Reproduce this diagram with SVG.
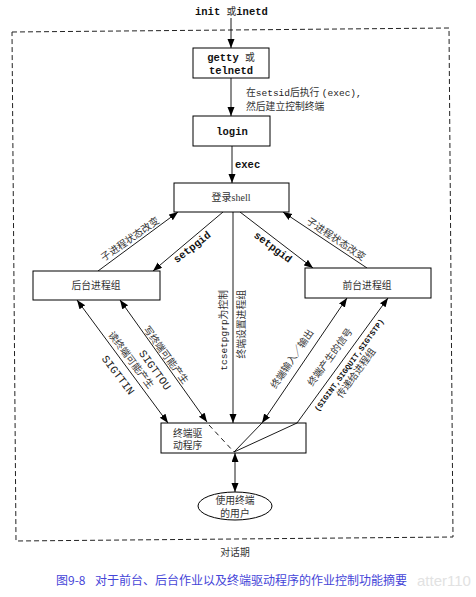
<svg xmlns="http://www.w3.org/2000/svg" width="476" height="597" viewBox="0 0 476 597">
<style>
.box{fill:#fff;stroke:#000;stroke-width:1}
.ln{fill:none;stroke:#000;stroke-width:0.9}
.mono{font-family:"Liberation Mono",monospace;font-weight:bold;font-size:10.5px;fill:#111}
.monor{font-family:"Liberation Mono",monospace;font-weight:normal;font-size:11px;fill:#222}
.cjk{font-family:"Liberation Serif","Noto Sans CJK SC",serif;font-size:9.8px;fill:#333}
.c{text-anchor:middle}
</style>
<defs>
<marker id="ah" markerUnits="userSpaceOnUse" markerWidth="10" markerHeight="8" refX="9" refY="3.5" orient="auto-start-reverse">
<path d="M0,0 L9,3.5 L0,7 z" fill="#000"/>
</marker>
</defs>
<rect width="476" height="597" fill="#fff"/>
<polygon points="12,32 449,28 453,537 16,541" fill="none" stroke="#222" stroke-width="1" stroke-dasharray="5,3"/>

<g id="connectors">
<line class="ln" x1="231" y1="18" x2="231" y2="48" marker-end="url(#ah)"/>
<line class="ln" x1="231" y1="78" x2="231" y2="116" marker-end="url(#ah)"/>
<line class="ln" x1="232" y1="146" x2="232" y2="183" marker-end="url(#ah)"/>
<line class="ln" x1="98" y1="271" x2="178" y2="212" marker-end="url(#ah)"/>
<line class="ln" x1="223" y1="212" x2="153" y2="271" marker-end="url(#ah)"/>
<line class="ln" x1="233" y1="212" x2="233" y2="423" marker-end="url(#ah)"/>
<line class="ln" x1="240" y1="212" x2="313" y2="268" marker-end="url(#ah)"/>
<line class="ln" x1="367" y1="268" x2="283" y2="212" marker-end="url(#ah)"/>
<line class="ln" x1="77" y1="300" x2="168" y2="423" marker-start="url(#ah)" marker-end="url(#ah)"/>
<line class="ln" x1="120" y1="300" x2="207" y2="422" marker-start="url(#ah)" marker-end="url(#ah)"/>
<line class="ln" x1="209" y1="425" x2="234" y2="452" stroke-dasharray="5,4"/>
<line class="ln" x1="347" y1="298" x2="262" y2="423" marker-start="url(#ah)" marker-end="url(#ah)"/>
<line class="ln" x1="262" y1="423" x2="234" y2="452"/>
<polyline class="ln" points="234,452 297,423 388,298" marker-end="url(#ah)"/>
<line class="ln" x1="235" y1="453" x2="235" y2="492" marker-start="url(#ah)" marker-end="url(#ah)"/>

<text class="cjk" x="246" y="96">在<tspan class="monor" style="font-size:9.5px">setsid</tspan>后执行 <tspan class="monor" style="font-size:9.5px">(exec),</tspan></text>
<text class="cjk" x="246" y="110">然后建立控制终端</text>
<text class="mono" x="235" y="168">exec</text>
<text class="cjk c" transform="translate(130,239) rotate(-35)" dy="3.4">子进程状态改变</text>
<text class="mono c" transform="translate(192,247) rotate(-38)" dy="3.5">setpgid</text>
<text class="cjk c" transform="translate(336,239) rotate(34)" dy="3.4">子进程状态改变</text>
<text class="mono c" transform="translate(273,247) rotate(37)" dy="3.5">setpgid</text>
<text class="cjk" text-anchor="end" transform="translate(227,290) rotate(-90)"><tspan class="monor" style="font-size:9.5px">tcsetpgrp</tspan>为控制</text>
<text class="cjk" text-anchor="end" transform="translate(245,290) rotate(-90)">终端设置进程组</text>
<text class="cjk c" transform="translate(131,360) rotate(53)" dy="3.4">读终端可能产生</text>
<text class="monor c" transform="translate(118,375) rotate(53)" dy="3.5">SIGTTIN</text>
<text class="cjk c" transform="translate(166,355) rotate(54)" dy="3.4">写终端可能产生</text>
<text class="monor c" transform="translate(155,370) rotate(54)" dy="3.5">SIGTTOU</text>
<text class="cjk c" transform="translate(292,359) rotate(-56)" dy="3.4">终端输入／输出</text>
<text class="cjk c" transform="translate(330,357) rotate(-54)" dy="3.4">终端产生的信号</text>
<text class="mono c" style="font-size:7.8px" transform="translate(349,365) rotate(-54)" dy="2.8">(SIGINT,SIGQUIT,SIGTSTP)</text>
<text class="cjk c" transform="translate(356,373) rotate(-54)" dy="3.4">传递给进程组</text>
</g>

<g id="init"><text class="mono" x="195" y="15">init <tspan class="cjk" style="font-weight:normal">或</tspan>inetd</text></g>
<g id="getty">
<rect class="box" x="193" y="48" width="76" height="30"/>
<text class="mono c" x="231" y="61">getty <tspan class="cjk" style="font-weight:normal">或</tspan></text>
<text class="mono c" x="231" y="74">telnetd</text>
</g>
<g id="login">
<rect class="box" x="193" y="116" width="77" height="30"/>
<text class="mono c" x="232" y="135">login</text>
</g>
<g id="shell">
<rect class="box" x="174" y="183" width="115" height="29"/>
<text class="cjk c" x="231" y="201" style="font-size:10px">登录shell</text>
</g>
<g id="bg">
<rect class="box" x="33" y="271" width="127" height="29"/>
<text class="cjk c" x="96" y="289">后台进程组</text>
</g>
<g id="fg">
<rect class="box" x="305" y="268" width="126" height="30"/>
<text class="cjk c" x="367" y="289">前台进程组</text>
</g>
<g id="driver">
<rect class="box" x="161" y="423" width="145" height="30" style="fill:none"/>
<text class="cjk" x="173" y="437">终端驱</text>
<text class="cjk" x="173" y="449">动程序</text>
</g>
<g id="user">
<ellipse class="box" cx="235" cy="506" rx="37" ry="14"/>
<text class="cjk c" x="235" y="504">使用终端</text>
<text class="cjk c" x="235" y="517">的用户</text>
</g>
<g id="session"><text class="cjk c" x="235" y="556">对话期</text></g>
<g id="caption">
<text x="417" y="586" style="font-family:'Liberation Sans',sans-serif;font-size:15px;fill:#e2e2e2">atter110</text>
<text x="56" y="585" style="font-family:'Noto Sans CJK SC',sans-serif;font-size:12px;fill:#4545d8">图9-8<tspan x="95">对于前台、后台作业以及终端驱动程序的作业控制功能摘要</tspan></text>
</g>
</svg>
